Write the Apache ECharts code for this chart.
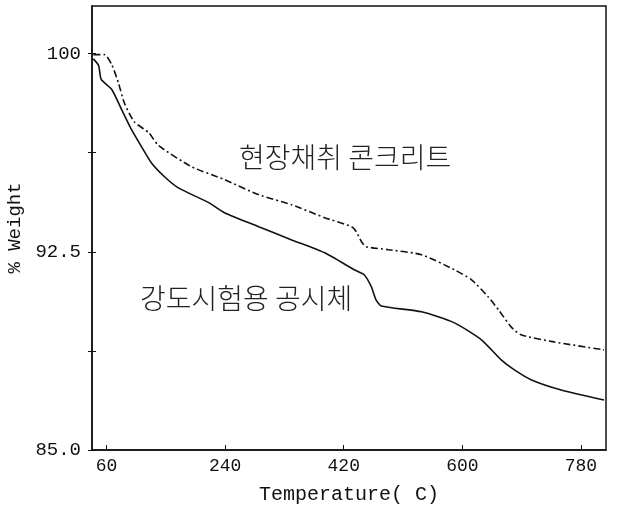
<!DOCTYPE html>
<html>
<head>
<meta charset="utf-8">
<script src="https://cdn.jsdelivr.net/npm/echarts@6/dist/echarts.min.js"></script>
<style>html,body{margin:0;padding:0;background:#fff}#c{width:618px;height:510px}</style>
</head>
<body>
<div id="c"></div>
<script>
// Field-sampled concrete (dash-dot)
var fieldT = [40, 57, 68, 78, 87, 102, 124, 139, 189, 239, 291, 341, 391, 432, 439, 447, 454, 488, 538, 588, 614, 639, 655, 674, 689, 739, 815];
var fieldW = [99.96, 99.96, 99.58, 98.9, 98.14, 97.42, 97.01, 96.52, 95.72, 95.23, 94.66, 94.28, 93.79, 93.45, 93.26, 92.88, 92.69, 92.58, 92.39, 91.82, 91.44, 90.80, 90.30, 89.66, 89.36, 89.09, 88.79];
// Strength-test specimen (solid)
var specT = [40, 48, 52, 68, 83, 98, 113, 128, 148, 169, 215, 239, 291, 341, 391, 436, 451, 462, 469, 477, 538, 588, 629, 659, 679, 705, 750, 815];
var specW = [99.8, 99.55, 99.02, 98.64, 97.88, 97.12, 96.48, 95.87, 95.34, 94.92, 94.36, 93.98, 93.45, 92.95, 92.46, 91.82, 91.63, 91.17, 90.68, 90.45, 90.23, 89.81, 89.17, 88.41, 88.03, 87.65, 87.27, 86.89];

var xTickValues = [60, 240, 420, 600, 780];
var yTickValues = [85, 88.75, 92.5, 96.25, 100];
var yLabelValues = [85, 92.5, 100];
var yLabelText = ['85.0', '92.5', '100'];

var seriesNames = ['현장채취 콘크리트', '강도시험용 공시체'];
var noteT = [422, 272];
var noteW = [96.06, 90.72];

function pairs(xs, ys) { return xs.map(function (x, i) { return [x, ys[i]]; }); }

var mono = 'Liberation Mono';
var noteLabel = { show: true, position: 'inside', fontFamily: 'Noto Sans CJK KR', fontWeight: 300, fontSize: 28, color: '#222' };
var chart = echarts.init(document.getElementById('c'), null, { renderer: 'canvas' });
chart.setOption({
  backgroundColor: '#fff',
  animation: false,
  grid: { left: 92, right: 12, top: 6, bottom: 60, outerBoundsMode: 'none', containLabel: false, show: true, borderColor: '#111', borderWidth: 1.5, backgroundColor: 'transparent' },
  xAxis: {
    type: 'value', min: 38, max: 818,
    name: 'Temperature( C)', nameLocation: 'middle', nameGap: 35,
    nameTextStyle: { fontFamily: mono, fontSize: 20, color: '#111' },
    axisLine: { show: true, lineStyle: { color: '#111', width: 1.5 } },
    axisTick: { show: true, inside: true, length: 5, customValues: xTickValues, lineStyle: { color: '#111' } },
    axisLabel: { customValues: xTickValues, fontFamily: mono, fontSize: 18, color: '#111', margin: 7 },
    splitLine: { show: false }
  },
  yAxis: [{
    type: 'value', min: 85, max: 101.8, position: 'left',
    name: '% Weight', nameLocation: 'middle', nameGap: 67, nameRotate: 90,
    nameTextStyle: { fontFamily: mono, fontSize: 19, color: '#111' },
    axisLine: { show: true, lineStyle: { color: '#111', width: 1.5 } },
    axisTick: { show: true, length: 4, customValues: yTickValues, lineStyle: { color: '#111' } },
    axisLabel: {
      customValues: yLabelValues, fontFamily: mono, fontSize: 19, color: '#111', margin: 11,
      formatter: function (v) { var i = yLabelValues.indexOf(v); return i >= 0 ? yLabelText[i] : ''; }
    },
    splitLine: { show: false }
  }, {
    type: 'value', min: 85, max: 101.8, position: 'left', offset: 0,
    axisLine: { show: false },
    axisTick: { show: true, inside: true, length: 4, customValues: yTickValues, lineStyle: { color: '#111' } },
    axisLabel: { show: false },
    splitLine: { show: false }
  }],
  series: [{
    name: seriesNames[0], type: 'line', yAxisIndex: 0, symbol: 'none', smooth: 0.2,
    data: pairs(fieldT, fieldW),
    lineStyle: { color: '#111', width: 1.6, type: [7, 3, 2, 3] },
    markPoint: {
      symbol: 'circle', symbolSize: 0, silent: true,
      data: [{ coord: [noteT[0], noteW[0]], value: seriesNames[0] }],
      label: Object.assign({ formatter: seriesNames[0] }, noteLabel)
    }
  }, {
    name: seriesNames[1], type: 'line', yAxisIndex: 0, symbol: 'none', smooth: 0.2,
    data: pairs(specT, specW),
    lineStyle: { color: '#111', width: 1.6 },
    markPoint: {
      symbol: 'circle', symbolSize: 0, silent: true,
      data: [{ coord: [noteT[1], noteW[1]], value: seriesNames[1] }],
      label: Object.assign({ formatter: seriesNames[1] }, noteLabel)
    }
  }]
});
</script>
</body>
</html>
